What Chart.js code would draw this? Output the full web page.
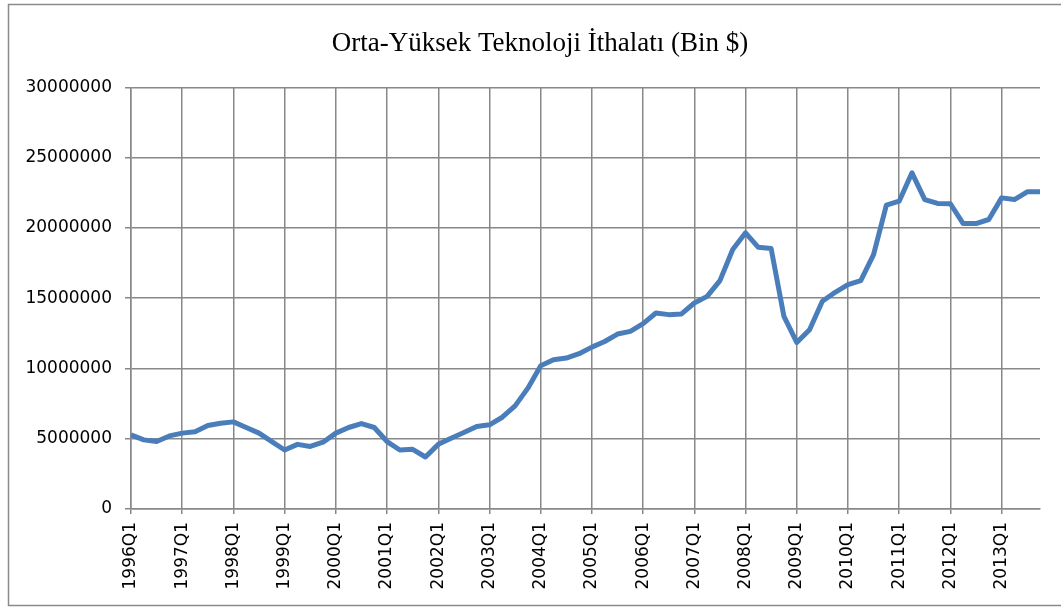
<!DOCTYPE html>
<html>
<head>
<meta charset="utf-8">
<script src="https://cdn.jsdelivr.net/npm/chart.js@4.4.1/dist/chart.umd.min.js"></script>
<style>
  html, body { margin: 0; padding: 0; background: #fff; }
  #wrap { position: relative; width: 1061px; height: 608px; }
</style>
</head>
<body>
<div id="wrap"><canvas id="grafico" width="1061" height="608"></canvas></div>
<script>
// --- DATOS ---
const titulo = 'Orta-Yüksek Teknoloji İthalatı (Bin $)';
const anios = [1996, 1997, 1998, 1999, 2000, 2001, 2002, 2003, 2004,
               2005, 2006, 2007, 2008, 2009, 2010, 2011, 2012, 2013];
const trimestres = ['Q1', 'Q2', 'Q3', 'Q4'];

const valores = [
    5270000, 4920000, 4800000, 5200000,       // 1996
    5400000, 5500000, 5940000, 6100000,       // 1997
    6200000, 5800000, 5400000, 4800000,       // 1998
    4200000, 4600000, 4450000, 4750000,       // 1999
    5400000, 5800000, 6080000, 5800000,       // 2000
    4800000, 4200000, 4250000, 3700000,       // 2001
    4600000, 5040000, 5440000, 5870000,       // 2002
    5990000, 6530000, 7340000, 8600000,       // 2003
    10190000, 10620000, 10740000, 11050000,   // 2004
    11520000, 11920000, 12450000, 12640000,   // 2005
    13190000, 13950000, 13830000, 13880000,   // 2006
    14660000, 15130000, 16250000, 18460000,   // 2007
    19650000, 18620000, 18530000, 13700000,   // 2008
    11850000, 12760000, 14780000, 15420000,   // 2009
    15970000, 16250000, 18100000, 21620000,   // 2010
    21900000, 23920000, 22020000, 21740000,   // 2011
    21720000, 20310000, 20310000, 20600000,   // 2012
    22140000, 22020000, 22570000, 22570000    // 2013
];

const etiquetas = [];
anios.forEach(a => trimestres.forEach(q => etiquetas.push(a + q)));

const colorGrid = '#888888';
const fuenteEjes = { family: 'DejaVu Sans', size: 17 };

// marco del gráfico
const marco = {
    id: 'marco',
    beforeDraw(chart) {
        const ctx = chart.ctx;
        ctx.save();
        ctx.fillStyle = '#ffffff';
        ctx.fillRect(0, 0, chart.width, chart.height);
        ctx.strokeStyle = '#8a8a8a';
        ctx.lineWidth = 1.5;
        ctx.beginPath();
        ctx.moveTo(chart.width + 2, 4.5);
        ctx.lineTo(8.5, 4.5);
        ctx.lineTo(8.5, 605.5);
        ctx.lineTo(chart.width + 2, 605.5);
        ctx.stroke();
        ctx.restore();
    }
};

const esAnio = c => c.index % 4 === 0;

new Chart(document.getElementById('grafico').getContext('2d'), {
    type: 'line',
    data: {
        labels: etiquetas,
        datasets: [{
            label: titulo,
            data: valores,
            borderColor: '#4a7ebb',
            borderWidth: 5,
            pointRadius: 0,
            tension: 0,
            borderJoinStyle: 'round',
            borderCapStyle: 'butt',
            fill: false
        }]
    },
    options: {
        responsive: false,
        animation: false,
        devicePixelRatio: 1,
        layout: {
            padding: { top: 4, left: 19, right: 0, bottom: 0 }
        },
        scales: {
            x: {
                offset: false,
                grid: {
                    color: c => esAnio(c) ? colorGrid : 'rgba(0,0,0,0)',
                    lineWidth: c => esAnio(c) ? 1.5 : 0,
                    tickColor: c => esAnio(c) ? colorGrid : 'rgba(0,0,0,0)',
                    tickLength: 5,
                    drawTicks: true
                },
                border: { display: true, color: colorGrid, width: 1.5 },
                ticks: {
                    autoSkip: false,
                    minRotation: 90,
                    maxRotation: 90,
                    padding: 8,
                    color: '#000',
                    font: fuenteEjes,
                    callback: function (v, i) {
                        return i % 4 === 0 ? this.getLabelForValue(v) : '';
                    }
                },
                afterFit: s => {
                    s.height = 99;
                    s.paddingLeft = 0;
                    s.paddingRight = 21;
                }
            },
            y: {
                min: 0,
                max: 30000000,
                grid: {
                    color: colorGrid,
                    lineWidth: 1.5,
                    tickLength: 6
                },
                border: { display: true, color: colorGrid, width: 1.5 },
                ticks: {
                    stepSize: 5000000,
                    padding: 13,
                    color: '#000',
                    font: fuenteEjes,
                    callback: v => String(v)
                },
                afterFit: s => { s.width = 112; }
            }
        },
        plugins: {
            legend: { display: false },
            tooltip: { enabled: false },
            title: {
                display: true,
                text: titulo,
                color: '#000',
                font: { family: 'Liberation Serif', size: 27, weight: 'normal' },
                padding: { top: 24, bottom: 27 }
            }
        }
    },
    plugins: [marco]
});
</script>
</body>
</html>
